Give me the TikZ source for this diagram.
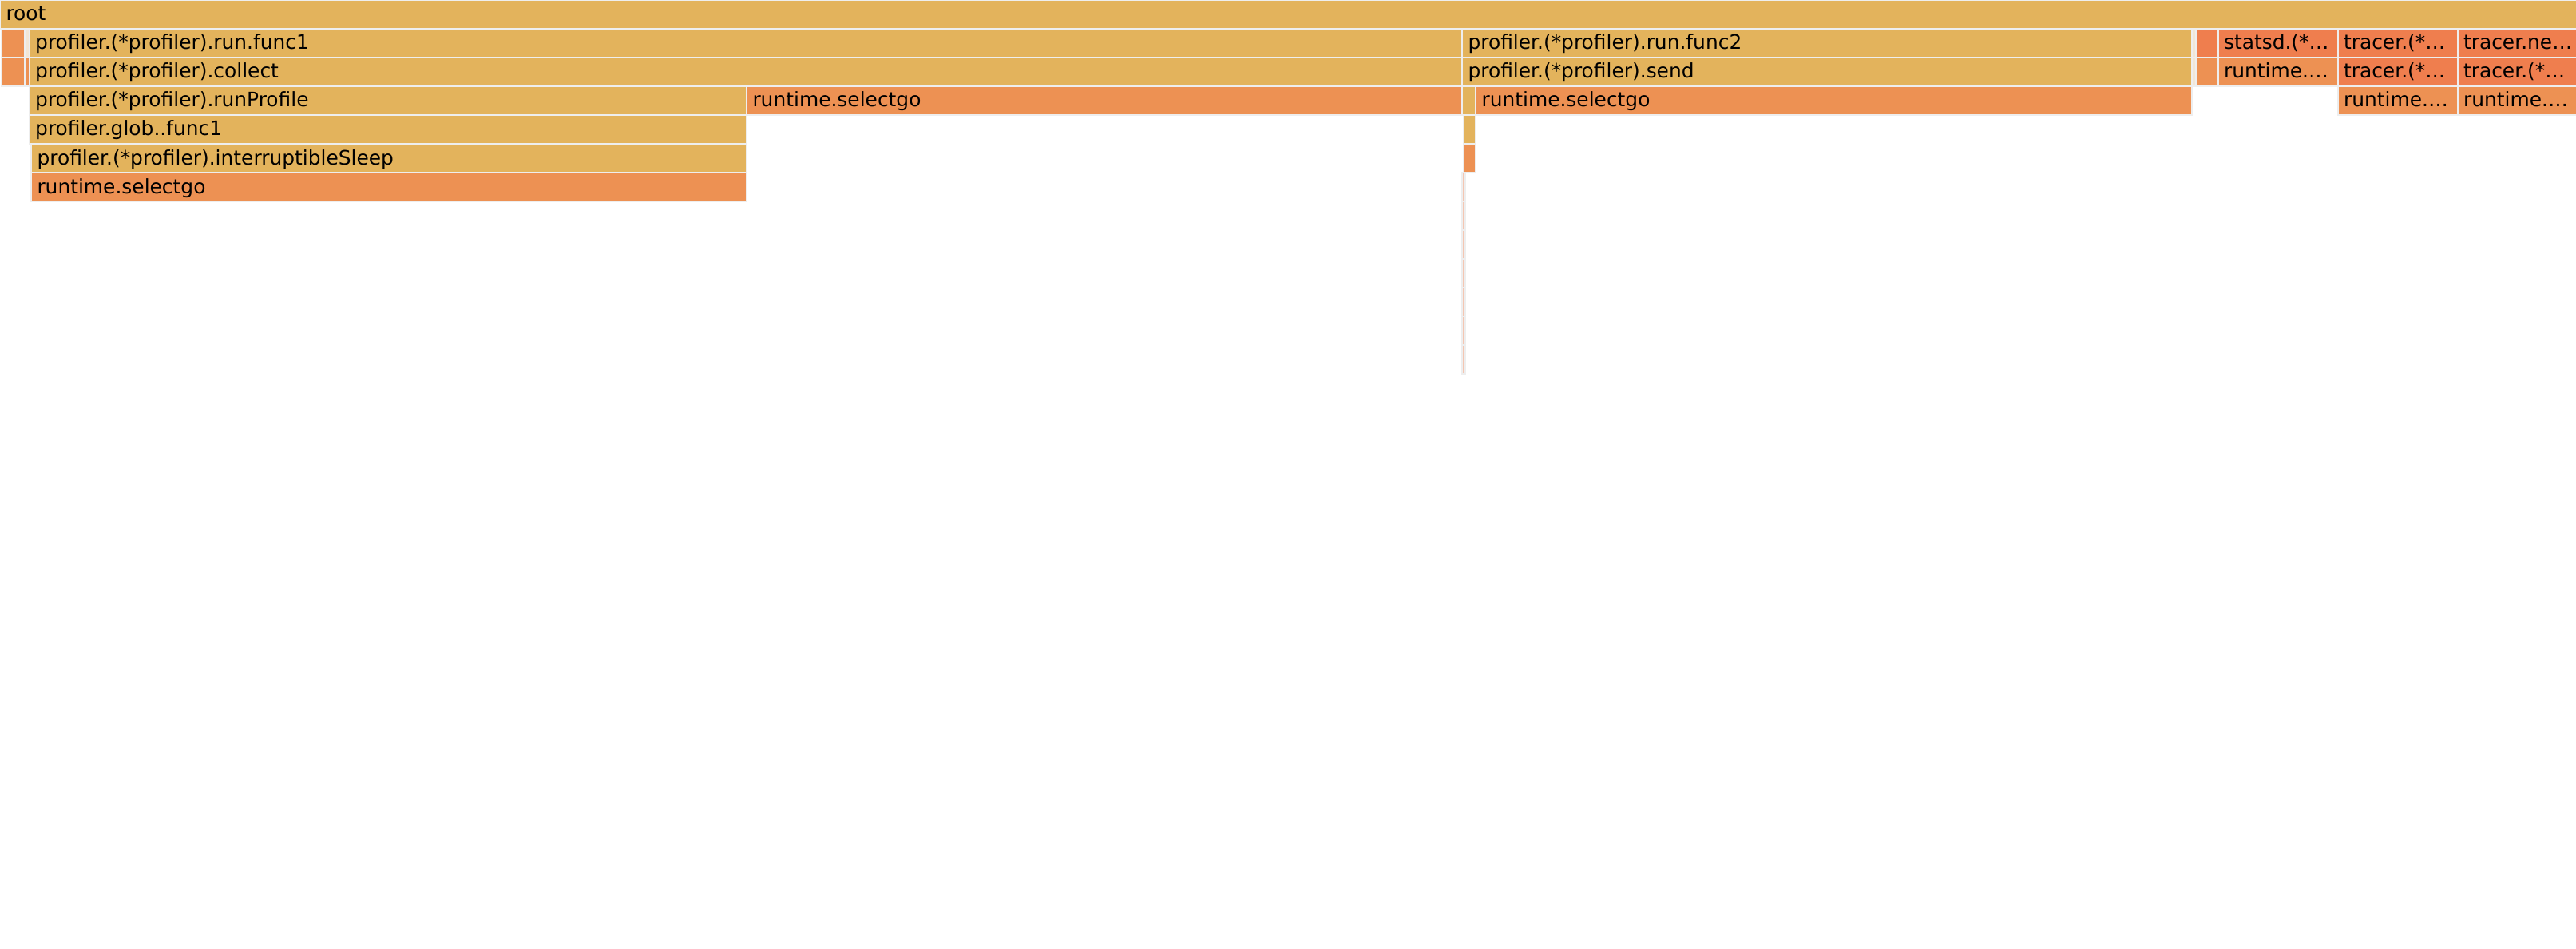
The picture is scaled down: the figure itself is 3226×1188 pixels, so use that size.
\documentclass[tikz,border=0pt]{standalone}
\usepackage{fontspec}
\setmainfont{DejaVu Sans}
\definecolor{fy}{HTML}{E3B35C}
\definecolor{fo}{HTML}{ED9153}
\definecolor{fr}{HTML}{EF7E4E}
\definecolor{fp}{HTML}{F2E6D6}
\definecolor{fl}{HTML}{F4C6B2}
\definecolor{gapc}{HTML}{EEEEEE}
\tikzset{
  frame/.style={draw=gapc, line width=2pt, inner sep=0pt, outer sep=0pt,
    minimum height=36pt, anchor=north west, rectangle},
  lbl/.style={inner sep=0pt, outer sep=0pt, anchor=base west, text=black,
    font=\fontsize{24.9}{28}\selectfont}
}
% #1 name, #2 x0, #3 x1, #4 row, #5 colour
\newcommand\fgcell[5]{%
  \node[frame, fill=#5, minimum width={(#3-#2)*1pt}] (#1) at (#2,{36*#4}) {};}
% same with a label #6
\newcommand\fgbox[6]{%
  \fgcell{#1}{#2}{#3}{#4}{#5}%
  \node[lbl] (#1-t) at ([xshift=7.5pt,yshift=-26pt]#1.north west) {#6};}
\begin{document}
\begin{tikzpicture}[x=1pt,y=-1pt]
\useasboundingbox[fill=white] (0,0) rectangle (3226,1188);
% row 0
\fgbox{root}{0}{3227}{0}{fy}{root}
% row 1
\fgcell{a1}{2}{31}{1}{fo}
\fgcell{b1}{31}{36.7}{1}{fp}
\fgbox{func1}{36.7}{1831}{1}{fy}{profiler.(*profiler).run.func1}
\fgbox{func2}{1831}{2745.3}{1}{fy}{profiler.(*profiler).run.func2}
\fgcell{c1}{2745.3}{2750}{1}{fp}
\fgcell{d1}{2750}{2777.5}{1}{fr}
\fgbox{statsd}{2777.5}{2927.5}{1}{fr}{statsd.(*…}
\fgbox{tracerA}{2927.5}{3077.5}{1}{fr}{tracer.(*…}
\fgbox{tracerB}{3077.5}{3227}{1}{fr}{tracer.ne…}
% row 2
\fgcell{a2}{2}{31}{2}{fo}
\fgcell{b2}{31}{36.7}{2}{fo}
\fgbox{collect}{36.7}{1831}{2}{fy}{profiler.(*profiler).collect}
\fgbox{send}{1831}{2745.3}{2}{fy}{profiler.(*profiler).send}
\fgcell{c2}{2745.3}{2750}{2}{fp}
\fgcell{d2}{2750}{2777.5}{2}{fo}
\fgbox{rtA}{2777.5}{2927.5}{2}{fo}{runtime.…}
\fgbox{tracerC}{2927.5}{3077.5}{2}{fr}{tracer.(*…}
\fgbox{tracerD}{3077.5}{3227}{2}{fr}{tracer.(*…}
% row 3
\fgbox{runProfile}{36.7}{935}{3}{fy}{profiler.(*profiler).runProfile}
\fgbox{sel1}{935}{1831}{3}{fo}{runtime.selectgo}
\fgcell{e3}{1831}{1848}{3}{fy}
\fgbox{sel2}{1848}{2745.3}{3}{fo}{runtime.selectgo}
\fgbox{rtB}{2927.5}{3077.5}{3}{fo}{runtime.…}
\fgbox{rtC}{3077.5}{3227}{3}{fo}{runtime.…}
% row 4
\fgbox{glob}{36.7}{935}{4}{fy}{profiler.glob..func1}
\fgcell{e4}{1833}{1848}{4}{fy}
% row 5
\fgbox{sleep}{39}{935}{5}{fy}{profiler.(*profiler).interruptibleSleep}
\fgcell{e5}{1833}{1848}{5}{fo}
% row 6
\fgbox{sel3}{39}{935}{6}{fo}{runtime.selectgo}
% thin stack of tiny frames under send
\foreach \r in {6,...,12}{\fgcell{t\r}{1831}{1834.5}{\r}{fl}}
\end{tikzpicture}
\end{document}
